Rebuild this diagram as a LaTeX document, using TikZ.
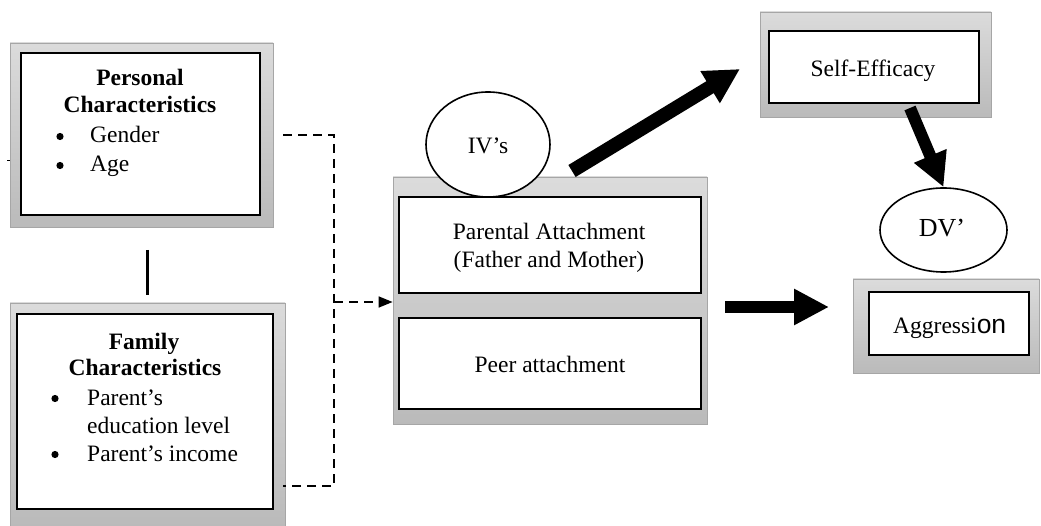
\documentclass[tikz,border=0pt]{standalone}
\usepackage{fontspec}
\setmainfont{Liberation Serif}
\newfontfamily\sansf{Liberation Sans}
\usetikzlibrary{arrows.meta,shapes.geometric}
\begin{document}
\begin{tikzpicture}[x=1pt,y=-1pt,
  every node/.style={font=\fontsize{23.5}{28}\selectfont, inner sep=0pt},
  obox/.style={draw=black!35, line width=0.8pt, top color=black!14, bottom color=black!27},
  ibox/.style={draw=black, line width=2.6pt, fill=white},
  oval/.style={draw=black, line width=1.6pt, fill=white, ellipse},
  txt/.style={anchor=base},
  dashline/.style={draw=black, line width=1.6pt, dash pattern=on 9pt off 6pt},
  bigarrow/.style={line width=#1, -{Triangle[length=35pt,width=35pt]}},
  bul/.style={fill=black}
]
\useasboundingbox (0,0) rectangle (1041,526);

% Personal characteristics
\node[obox, minimum width=263pt, minimum height=184pt] (persout) at (141.5,135) {};
\node[ibox, minimum width=239pt, minimum height=162pt] (pers) at (140.5,134) {};
\node[txt, font=\fontsize{23.5}{28}\selectfont\bfseries] (persh1) at (140,86) {Personal};
\node[txt, font=\fontsize{23.5}{28}\selectfont\bfseries] (persh2) at (140,113) {Characteristics};
\node[txt, anchor=base west] (pers1) at (90,143) {Gender};
\node[txt, anchor=base west] (pers2) at (90,172) {Age};
\fill[bul] (60,136.5) circle (3.6);
\fill[bul] (60,165.5) circle (3.6);

% Family characteristics
\node[obox, minimum width=275pt, minimum height=223pt] (famout) at (147.5,414.5) {};
\node[ibox, minimum width=256pt, minimum height=195pt] (fam) at (145,411.5) {};
\node[txt, font=\fontsize{23.5}{28}\selectfont\bfseries] (famh1) at (144,350) {Family};
\node[txt, font=\fontsize{23.5}{28}\selectfont\bfseries] (famh2) at (145,375) {Characteristics};
\node[txt, anchor=base west] (fam1) at (87,405) {Parent’s};
\node[txt, anchor=base west] (fam2) at (87,433) {education level};
\node[txt, anchor=base west] (fam3) at (87,461) {Parent’s income};
\fill[bul] (55,398.5) circle (3.6);
\fill[bul] (55,454.5) circle (3.6);

% small tick at left
\coordinate (tk1) at (7,161);
\draw[line width=1pt] (tk1) -- (persout.west |- tk1);

% link between personal and family
\coordinate (ln1) at (147,250);
\coordinate (ln2) at (147,295);
\draw[line width=3pt] (ln1) -- (ln2);

% Middle group
\node[obox, minimum width=314pt, minimum height=247pt] (mid) at (550,300.5) {};
\node[ibox, minimum width=302pt, minimum height=96pt] (par) at (550,245) {};
\node[ibox, minimum width=302pt, minimum height=91pt] (peer) at (550,363.5) {};
\node[txt] (part1) at (549,240) {Parental Attachment};
\node[txt] (part2) at (549,268) {(Father and Mother)};
\node[txt] (peert) at (550,372) {Peer attachment};

% IV's ellipse
\node[oval, minimum width=124pt, minimum height=105pt] (iv) at (488,144.5) {};
\node[txt] (ivt) at (488,154) {IV’s};

% Self-efficacy
\node[obox, minimum width=231pt, minimum height=105pt] (selfout) at (875.5,64.5) {};
\node[ibox, minimum width=210pt, minimum height=72pt] (self) at (874,67) {};
\node[txt] (selft) at (873,77) {Self-Efficacy};

% DV ellipse
\node[oval, minimum width=127pt, minimum height=84pt] (dv) at (943.5,230) {};
\node[txt, font=\fontsize{26}{30}\selectfont] (dvt) at (942,237) {DV’};

% Aggression
\node[obox, minimum width=186pt, minimum height=94pt] (aggout) at (946,326) {};
\node[ibox, minimum width=160pt, minimum height=63pt] (agg) at (949,323.5) {};
\node[txt, anchor=base west] (aggt) at (893,334) {Aggressi{\sansf\fontsize{26.5}{30}\selectfont on}};

% dashed connectors
\coordinate (d1) at (283,135);
\coordinate (d2) at (334,135);
\coordinate (d3) at (334,486);
\coordinate (d4) at (283,486);
\coordinate (dj) at (334,302);
\draw[dashline] (d1) -- (d2) -- (d3) -- (d4);
\draw[dashline, -{Triangle[length=14pt,width=11pt]}] (dj) -- (mid.west |- dj);

% thick arrows
\coordinate (a1s) at (572,171);
\coordinate (a1e) at (740,69);
\draw[bigarrow=14pt] (a1s) -- (a1e);
\coordinate (a2s) at (910,108);
\draw[line width=12pt, -{Triangle[length=34pt,width=33pt]}] (a2s) -- (dv.north);
\coordinate (a3s) at (725,307);
\coordinate (a3e) at (829,307);
\draw[line width=12pt, -{Triangle[length=35pt,width=34pt]}] (a3s) -- (a3e);
\end{tikzpicture}
\end{document}
